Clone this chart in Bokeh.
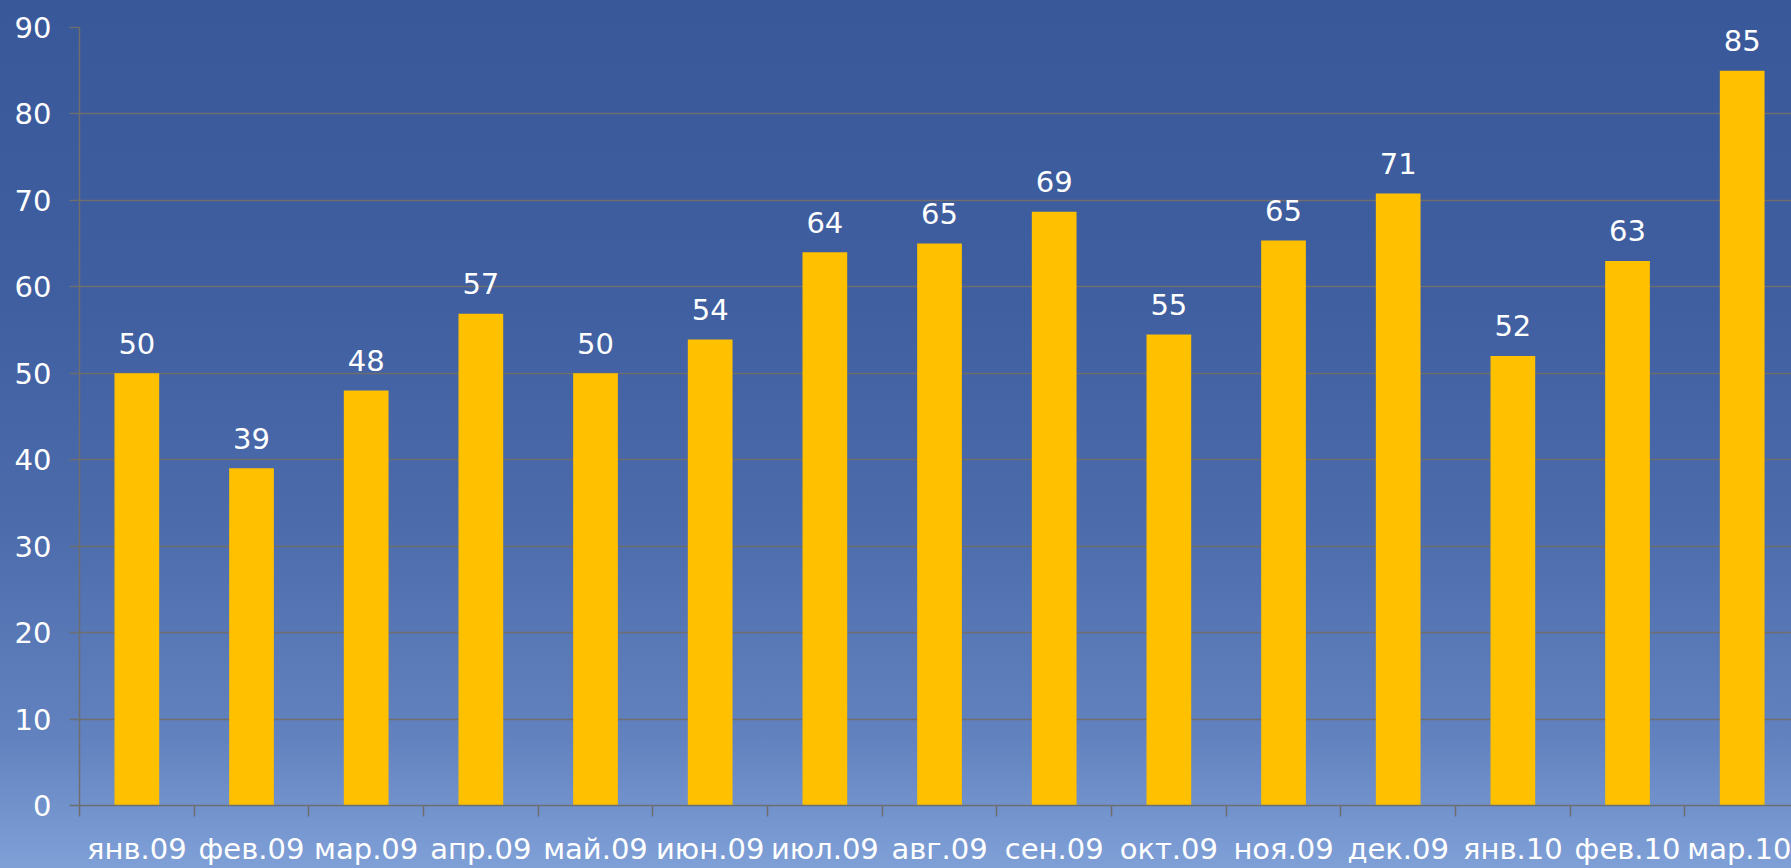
from bokeh.plotting import figure
from bokeh.models import Range1d, FixedTicker, ColumnDataSource
from bokeh.core.properties import value
from bokeh.embed import file_html
from bokeh.resources import INLINE

# ---- data ----
months = ["янв.09", "фев.09", "мар.09", "апр.09", "май.09", "июн.09", "июл.09", "авг.09",
          "сен.09", "окт.09", "ноя.09", "дек.09", "янв.10", "фев.10", "мар.10"]
values = [50, 39, 48, 56.9, 50, 53.9, 64, 65, 68.7, 54.5, 65.35, 70.8, 52, 63, 85]
value_labels = ["50", "39", "48", "57", "50", "54", "64", "65", "69", "55", "65", "71", "52", "63", "85"]
y_ticks = [0, 10, 20, 30, 40, 50, 60, 70, 80, 90]

FONT = "DejaVu Sans"
FSIZE = "29px"
GRID = "#6e6e6e"

centers = [i + 0.5 for i in range(len(months))]
boundaries = [i for i in range(len(months) + 1)]

src = ColumnDataSource(dict(x=centers, top=values, lab=value_labels))

p = figure(width=1791, height=868, output_backend="svg", toolbar_location=None,
           x_range=Range1d(0, 14.93), y_range=Range1d(0, 90),
           min_border_left=79, min_border_top=27, min_border_bottom=62, min_border_right=0)

p.background_fill_alpha = 0
p.border_fill_alpha = 0
p.outline_line_color = None
p.styles = {"background": "linear-gradient(to bottom, #39589a 0%, #3f5fa1 35%, #4b6bab 60%, #6282bf 85%, #7fa0d7 100%)"}

p.vbar(x="x", top="top", bottom=0, width=0.39, source=src,
       fill_color="#FFC000", line_color=None)

p.text(x="x", y="top", text="lab", source=src, text_align="center",
       text_baseline="alphabetic", y_offset=-30, text_color="white",
       text_font=value(FONT), text_font_size=FSIZE)

# grid
p.xgrid.grid_line_color = None
p.ygrid.ticker = FixedTicker(ticks=y_ticks)
p.ygrid.grid_line_color = GRID
p.ygrid.grid_line_width = 1.5

# y axis
ya = p.yaxis[0]
ya.ticker = FixedTicker(ticks=y_ticks)
ya.axis_line_color = GRID
ya.axis_line_width = 1.5
ya.major_tick_line_color = GRID
ya.major_tick_line_width = 1.5
ya.major_tick_out = 10
ya.major_tick_in = 0
ya.minor_tick_line_color = None
ya.major_label_standoff = 18
ya.major_label_text_color = "white"
ya.major_label_text_font = FONT
ya.major_label_text_font_size = FSIZE

# x axis
xa = p.xaxis[0]
xa.ticker = FixedTicker(ticks=centers, minor_ticks=boundaries)
xa.major_label_overrides = {c: m for c, m in zip(centers, months)}
xa.axis_line_color = GRID
xa.axis_line_width = 1.5
xa.major_tick_line_color = None
xa.major_tick_out = 0
xa.major_tick_in = 0
xa.minor_tick_line_color = GRID
xa.minor_tick_line_width = 1.5
xa.minor_tick_out = 11
xa.minor_tick_in = 0
xa.major_label_standoff = 15
xa.major_label_text_color = "white"
xa.major_label_text_font = FONT
xa.major_label_text_font_size = FSIZE

open("out.html", "w").write(file_html(p, INLINE))
